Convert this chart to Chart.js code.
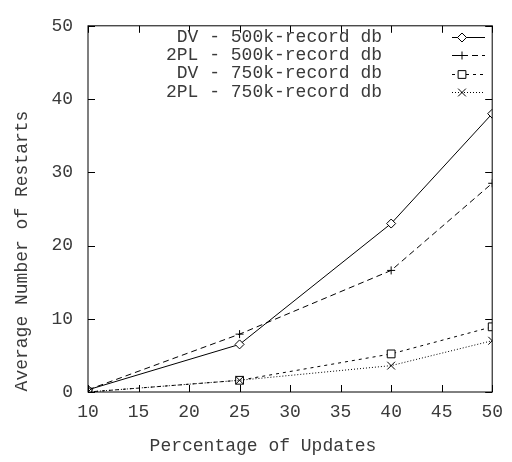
<!DOCTYPE html>
<html>
<head>
<meta charset="utf-8">
<script src="https://cdn.jsdelivr.net/npm/chart.js@4.4.1/dist/chart.umd.min.js"></script>
<style>
  html, body { margin: 0; padding: 0; background: #fff; }
  #wrap { width: 512px; height: 462px; }
</style>
</head>
<body>
<div id="wrap"><canvas id="chart" width="512" height="462"></canvas></div>
<script>
// Data
const xValues = [10, 25, 40, 50];
const dv500 = [0.3, 6.5, 23.0, 38.0];
const pl500 = [0.3, 7.9, 16.6, 28.5];
const dv750 = [0.0, 1.6, 5.2, 8.9];
const pl750 = [0.0, 1.6, 3.6, 7.0];
const seriesLabels = ['DV - 500k-record db', '2PL - 500k-record db', 'DV - 750k-record db', '2PL - 750k-record db'];
const xTicks = [10, 15, 20, 25, 30, 35, 40, 45, 50];
const yTicks = [0, 10, 20, 30, 40, 50];
const xTitle = 'Percentage of Updates';
const yTitle = 'Average Number of Restarts';

const FONT = 'Liberation Mono';
const INK = '#000';
const TEXT = '#3a3a3a';

function points(ys) {
  return xValues.map((x, i) => ({ x: x, y: ys[i] }));
}

const datasets = [
  { label: seriesLabels[0], data: points(dv500), borderDash: [], pointStyle: 'rectRot', pointRadius: 4.5 },
  { label: seriesLabels[1], data: points(pl500), borderDash: [6, 4], pointStyle: 'cross', pointRadius: 4 },
  { label: seriesLabels[2], data: points(dv750), borderDash: [3, 4], pointStyle: 'rect', pointRadius: 5.5 },
  { label: seriesLabels[3], data: points(pl750), borderDash: [1, 2], pointStyle: 'crossRot', pointRadius: 5.5 }
].map((d, i) => Object.assign(d, {
  borderColor: INK,
  borderWidth: 1,
  pointBorderColor: INK,
  pointBackgroundColor: '#fff',
  pointBorderWidth: 1,
  pointHoverRadius: d.pointRadius,
  tension: 0,
  fill: false,
  order: seriesLabels.length - i
}));

// Frame, inward ticks on all sides, titles and the gnuplot-style key
const decorPlugin = {
  id: 'decor',
  afterDatasetsDraw(chart) {
    const { ctx, chartArea: a, scales } = chart;
    const xs = scales.x, ys = scales.y;
    ctx.save();
    ctx.strokeStyle = INK;
    ctx.lineWidth = 1;
    ctx.setLineDash([]);
    ctx.strokeRect(a.left, a.top, a.right - a.left, a.bottom - a.top);

    const tl = 7;
    ctx.beginPath();
    xTicks.forEach(v => {
      const px = Math.round(xs.getPixelForValue(v)) + 0.5;
      ctx.moveTo(px, a.bottom); ctx.lineTo(px, a.bottom - tl);
      ctx.moveTo(px, a.top); ctx.lineTo(px, a.top + tl);
    });
    yTicks.forEach(v => {
      const py = Math.round(ys.getPixelForValue(v)) + 0.5;
      ctx.moveTo(a.left, py); ctx.lineTo(a.left + tl, py);
      ctx.moveTo(a.right, py); ctx.lineTo(a.right - tl, py);
    });
    ctx.stroke();

    // axis titles
    ctx.fillStyle = TEXT;
    ctx.font = '18px "' + FONT + '"';
    ctx.textAlign = 'center';
    ctx.textBaseline = 'middle';
    ctx.fillText(xTitle, 263, 446);
    ctx.save();
    ctx.translate(22, 251);
    ctx.rotate(-Math.PI / 2);
    ctx.fillText(yTitle, 0, 0);
    ctx.restore();

    // key
    chart.data.datasets.forEach((ds, i) => {
      const y = 37 + i * 18.3;
      ctx.fillStyle = TEXT;
      ctx.textAlign = 'right';
      ctx.fillText(ds.label, 382, y);
      ctx.strokeStyle = INK;
      ctx.setLineDash(ds.borderDash);
      ctx.beginPath();
      ctx.moveTo(452, Math.round(y) + 0.5);
      ctx.lineTo(485, Math.round(y) + 0.5);
      ctx.stroke();
      ctx.setLineDash([]);
      ctx.fillStyle = '#fff';
      Chart.helpers.drawPoint(ctx, {
        pointStyle: ds.pointStyle,
        radius: ds.pointRadius,
        rotation: 0,
        borderWidth: 1
      }, 462, Math.round(y) + 0.5);
    });
    ctx.restore();
  }
};

new Chart(document.getElementById('chart'), {
  type: 'line',
  data: { datasets: datasets },
  options: {
    responsive: false,
    animation: false,
    layout: { padding: { top: 13, right: 9, left: 0, bottom: 0 }, autoPadding: false },
    plugins: {
      legend: { display: false },
      tooltip: { enabled: false }
    },
    scales: {
      x: {
        type: 'linear',
        min: 10,
        max: 50,
        afterFit(scale) { scale.height = 70; },
        afterBuildTicks(scale) { scale.ticks = xTicks.map(v => ({ value: v })); },
        grid: { display: false, drawTicks: false },
        border: { display: false },
        ticks: {
          padding: 9,
          color: TEXT,
          font: { family: FONT, size: 18 },
          maxRotation: 0
        }
      },
      y: {
        type: 'linear',
        min: 0,
        max: 50,
        afterFit(scale) { scale.width = 88; },
        afterBuildTicks(scale) { scale.ticks = yTicks.map(v => ({ value: v })); },
        grid: { display: false, drawTicks: false },
        border: { display: false },
        ticks: {
          padding: 15,
          color: TEXT,
          font: { family: FONT, size: 18 }
        }
      }
    }
  },
  plugins: [decorPlugin]
});
</script>
</body>
</html>
